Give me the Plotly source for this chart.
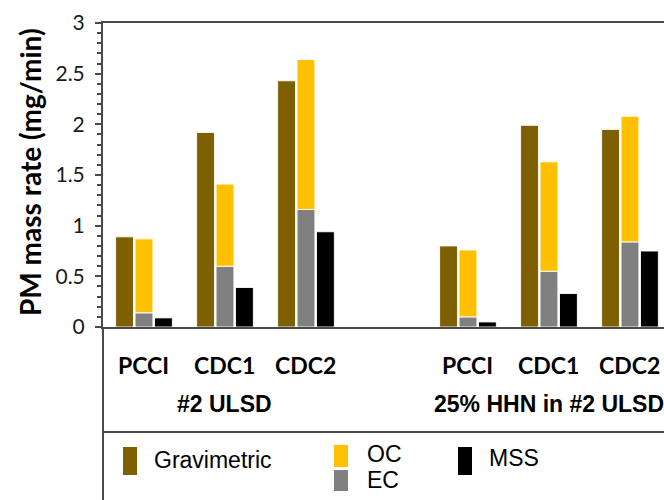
import plotly.graph_objects as go

# Operating modes, with one empty slot separating the two fuels
modes = ["PCCI", "CDC1", "CDC2", "PCCI", "CDC1", "CDC2"]
slots = [0, 1, 2, 4, 5, 6]
fuels = ["#2 ULSD", "25% HHN in #2 ULSD"]
fuel_slots = [1, 5]

# PM mass rates (mg/min)
gravimetric = [0.89, 1.92, 2.43, 0.80, 1.99, 1.95]
ec = [0.14, 0.60, 1.16, 0.10, 0.55, 0.84]
oc = [0.73, 0.81, 1.48, 0.66, 1.08, 1.24]
mss = [0.09, 0.39, 0.94, 0.05, 0.33, 0.75]

y_ticks = [0, 0.5, 1, 1.5, 2, 2.5, 3]
y_tick_text = ["0", "0.5", "1", "1.5", "2", "2.5", "3"]

colors = {"Gravimetric": "#7F6000", "OC": "#FFC000", "EC": "#808080", "MSS": "#000000"}

W, H = 664, 500
ML, MR, MT, MB = 103, 0, 23, 173
PW, PH = W - ML - MR, H - MT - MB


def px(x):
    return (x - ML) / PW


def py(y):
    return (H - MB - y) / PH


LINE = "#4a4a4a"
edge = dict(color="rgba(255,255,255,0.9)", width=1)

fig = go.Figure()
fig.add_trace(go.Bar(x=slots, y=gravimetric, name="Gravimetric", offsetgroup="grav",
                     marker=dict(color=colors["Gravimetric"], line=edge)))
fig.add_trace(go.Bar(x=slots, y=ec, name="EC", offsetgroup="carbon",
                     marker=dict(color=colors["EC"], line=edge)))
fig.add_trace(go.Bar(x=slots, y=oc, base=ec, name="OC", offsetgroup="carbon",
                     marker=dict(color=colors["OC"], line=edge)))
fig.add_trace(go.Bar(x=slots, y=mss, name="MSS", offsetgroup="mss",
                     marker=dict(color=colors["MSS"], line=edge)))

fig.update_layout(
    width=W, height=H,
    margin=dict(l=ML, r=MR, t=MT, b=MB, pad=0),
    paper_bgcolor="white", plot_bgcolor="white",
    barmode="group", bargap=0.28, bargroupgap=0.08,
    showlegend=False,
    xaxis=dict(range=[-0.506, 6.42], showticklabels=False, ticks="",
               showgrid=False, zeroline=False,
               showline=True, mirror=True, linecolor=LINE, linewidth=2),
    yaxis=dict(range=[0, 3], tickvals=y_ticks, ticktext=y_tick_text,
               ticks="outside", ticklen=6, tickwidth=2, tickcolor=LINE,
               minor=dict(dtick=0.1, ticks="outside", ticklen=4, tickwidth=1.5, tickcolor=LINE),
               showgrid=False, zeroline=False,
               showline=True, linecolor=LINE, linewidth=2,
               tickfont=dict(family="Lato", size=21, color="#1a1a1a"),
               ticklabelstandoff=6),
    yaxis2=dict(range=[0, 3], overlaying="y", tickvals=y_ticks, showticklabels=False,
                ticks="inside", ticklen=6, tickwidth=2, tickcolor=LINE,
                showgrid=False, zeroline=False, showline=False),
)

# Axis title
fig.add_annotation(text="<b>PM mass rate (mg/min)</b>", textangle=-90,
                   xref="paper", yref="paper", x=px(30), y=py(172),
                   xanchor="center", yanchor="middle", showarrow=False,
                   font=dict(family="Lato", size=28, color="black"))

# Mode and fuel labels under the axis
for s, m in zip(slots, modes):
    fig.add_annotation(text=f"<b>{m}</b>", xref="x", yref="paper", x=s, y=py(365),
                       xanchor="center", yanchor="middle", showarrow=False,
                       font=dict(family="Lato", size=23, color="black"))
for s, f in zip(fuel_slots, fuels):
    fig.add_annotation(text=f"<b>{f}</b>", xref="x", yref="paper", x=s, y=py(404),
                       xanchor="center", yanchor="middle", showarrow=False,
                       font=dict(family="Liberation Sans", size=23, color="black"))

# Frame lines extending into the label area
fig.add_shape(type="line", xref="paper", yref="paper", x0=0, x1=0, y0=py(327), y1=py(500),
              line=dict(color=LINE, width=2))
fig.add_shape(type="line", xref="paper", yref="paper", x0=0, x1=1, y0=py(432), y1=py(432),
              line=dict(color=LINE, width=2))

# Legend swatches and labels
legend_items = [
    ("Gravimetric", 123, 447, 475, 152, 460),
    ("OC", 334, 445, 467, 365, 454),
    ("EC", 334, 470, 491, 365, 480),
    ("MSS", 458, 447, 475, 487, 458),
]
for name, sx, sy0, sy1, tx, ty in legend_items:
    fig.add_shape(type="rect", xref="paper", yref="paper",
                  x0=px(sx), x1=px(sx + 14), y0=py(sy1), y1=py(sy0),
                  fillcolor=colors[name], line=dict(width=0))
    fig.add_annotation(text=name, xref="paper", yref="paper", x=px(tx), y=py(ty),
                       xanchor="left", yanchor="middle", showarrow=False,
                       font=dict(family="Liberation Sans", size=23, color="black"))

fig.write_html("out.html")
